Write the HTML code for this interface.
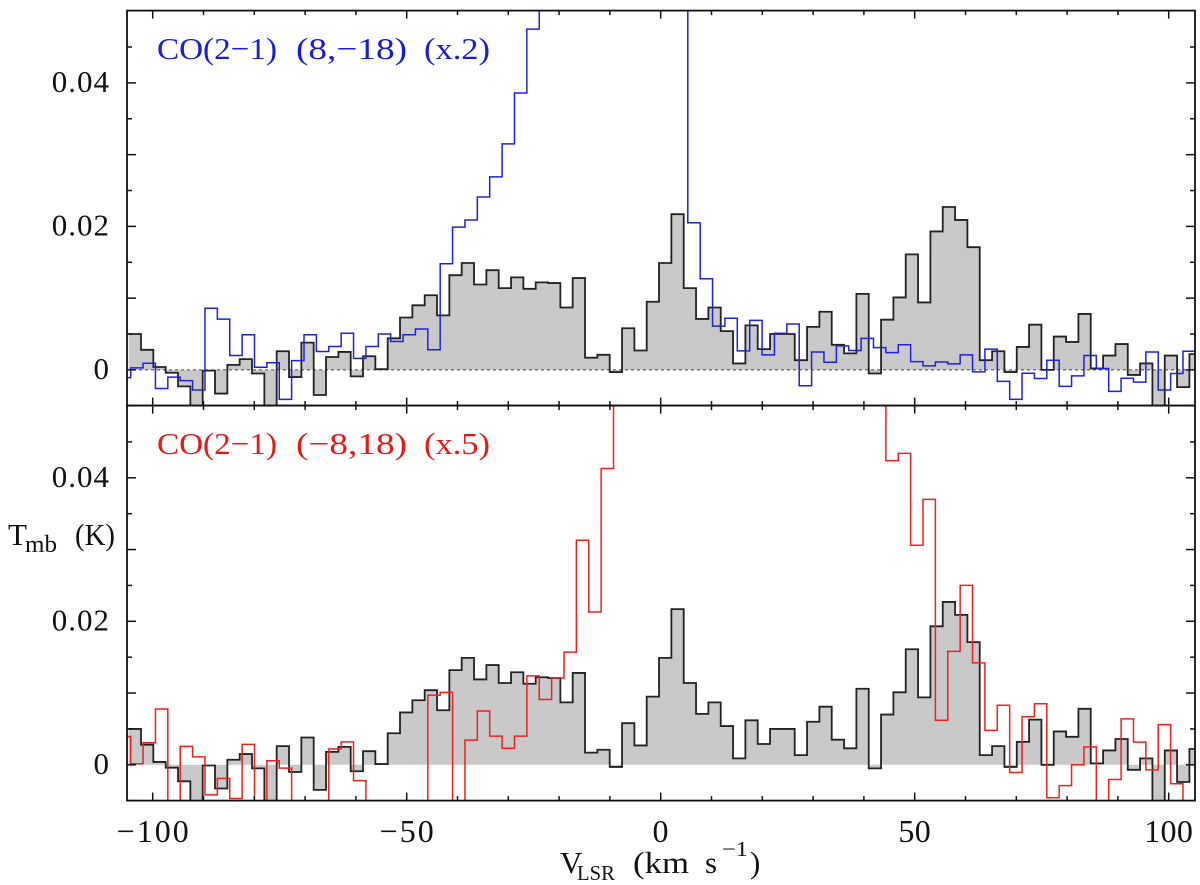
<!DOCTYPE html>
<html lang="en">
<head>
<meta charset="utf-8">
<title>CO(2-1) spectra</title>
<style>
html,body{margin:0;padding:0;background:#fff;}
svg{display:block;}
text{font-family:"Liberation Serif","DejaVu Serif",serif;fill:#111;}
</style>
</head>
<body>
<svg id="chart" xmlns="http://www.w3.org/2000/svg" width="1200" height="885" viewBox="0 0 1200 885">
  <defs>
    <clipPath id="clip-top"><rect x="127" y="10.6" width="1068" height="395"></rect></clipPath>
    <clipPath id="clip-bottom"><rect x="127" y="405.6" width="1068" height="395"></rect></clipPath>
  </defs>
  <g id="fills"></g>
  <line x1="127" x2="1195" y1="369.9" y2="369.9" stroke="#444" stroke-width="1" stroke-dasharray="3 3"></line>
  <g id="series"></g>
  <g id="axes"></g>

  <text x="157" y="59" font-size="31" textLength="120" lengthAdjust="spacingAndGlyphs" style="fill:#1a1ad8">CO(2−1)</text>
  <text x="296" y="59" font-size="31" textLength="111" lengthAdjust="spacingAndGlyphs" style="fill:#1a1ad8">(8,−18)</text>
  <text x="424" y="59" font-size="31" textLength="66" lengthAdjust="spacingAndGlyphs" style="fill:#1a1ad8">(x.2)</text>

  <text x="157" y="454" font-size="31" textLength="120" lengthAdjust="spacingAndGlyphs" style="fill:#e81818">CO(2−1)</text>
  <text x="296" y="454" font-size="31" textLength="111" lengthAdjust="spacingAndGlyphs" style="fill:#e81818">(−8,18)</text>
  <text x="424" y="454" font-size="31" textLength="66" lengthAdjust="spacingAndGlyphs" style="fill:#e81818">(x.5)</text>

  <g>
    <text x="8" y="545" font-size="31">T</text>
    <text x="25" y="552" font-size="24" textLength="32" lengthAdjust="spacingAndGlyphs">mb</text>
    <text x="75" y="545" font-size="31" textLength="40" lengthAdjust="spacingAndGlyphs">(K)</text>
  </g>
  <g>
    <text x="560" y="873" font-size="31">V</text>
    <text x="577" y="880" font-size="21" textLength="38" lengthAdjust="spacingAndGlyphs">LSR</text>
    <text x="633" y="873" font-size="31" textLength="56" lengthAdjust="spacingAndGlyphs">(km</text>
    <text x="705" y="873" font-size="31">s</text>
    <text x="722" y="856" font-size="21" textLength="26" lengthAdjust="spacingAndGlyphs">−1</text>
    <text x="750" y="873" font-size="31">)</text>
  </g>
</svg>
<script>
// Values in mK (1e-3 K). Channels that run off the plot are estimates.
const referenceTmb = [5.0,2.8,0.4,-0.4,-2.3,-5.5,-0.1,-3.3,0.7,1.5,-0.5,-6,2.6,-1.0,3.8,-3.5,1.8,2.5,-0.9,1.9,0.1,4.4,7.3,9.0,10.4,7.6,13.2,14.9,11.9,13.9,11.4,12.9,11.3,12.2,12.1,8.7,12.8,1.7,2.1,-0.3,5.8,2.7,9.5,14.9,21.7,11.4,7.1,8.7,5.4,0.9,6.2,2.9,5.0,5.0,1.35,6.0,8.1,3.5,2.3,10.6,-0.5,7.0,10.1,16.1,9.4,19.3,22.7,20.9,17.1,1.35,2.6,-0.3,3.2,6.3,0,4.65,3.9,7.8,0.2,2.0,3.6,-0.7,0.9,-5.5,2.0,-2.4,2.2];
const blueTmb = [-1.07,0.28,0.93,-2.6,-1.0,-1.5,-2.8,8.6,7.07,2.0,4.9,0.37,1.0,-4.1,1.3,4.9,2.56,3.26,5.1,1.6,3.26,5.0,3.95,4.9,5.7,2.8,14.8,19.9,20.9,24.1,26.9,31.5,38.6,47.5,55,62,70,80,90,100,105,100,90,80,70,60,20.5,12.7,6.1,7.2,2.65,6.9,2.1,5.1,6.4,-2.2,2.5,1.07,3.35,2.7,4.4,3.1,2.4,3.5,1.16,0.56,1.1,0.84,2.1,-0.28,2.9,-1.6,-4.1,-0.47,-1.2,1.35,-2.3,-0.84,2.0,0.2,-3.0,-1.16,-1.7,2.5,-2.8,-0.5,2.6];
const redTmb = [3.95,0.14,3.07,7.77,-7,2.56,1.1,-4.2,-1.9,-4.7,2.84,-7,0.56,-0.47,-7,-7,-7,2.2,3.2,-2.2,-7,-7,-7,-7,-7,9.7,10.1,-7,3.44,7.5,4.0,2.3,4.0,12.4,9.1,12.1,15.7,31.3,21.3,41.3,60,70,80,90,100,110,120,130,135,140,145,140,135,130,120,110,100,90,80,70,60,55,42.4,43.4,30.6,37,6.2,15.8,25,14.2,4.8,8.3,-1.07,6.7,8.5,-4.6,-2.9,0,2.5,-7,-2.05,6.4,3.16,-0.7,5.6,-2.65,-7];

const referenceStartVelocity = -104.73;
const referenceChannelWidth = 2.428;
const offsetStartVelocity = -106.77;
const offsetChannelWidth = 2.437;

const xTickValues = [-100,-90,-80,-70,-60,-50,-40,-30,-20,-10,0,10,20,30,40,50,60,70,80,90,100];
const xMajorValues = [-100,-50,0,50,100];
const xLabelValues = ["−100","−50","0","50","100"];
const yTickValues = [-5,0,5,10,15,20,25,30,35,40,45];
const yMajorValues = [0,10,20,30,40];
const yLabelValues = ["0","0.02","0.04"];

const SVGNS = "http://www.w3.org/2000/svg";
const plotLeft = 127, plotRight = 1195;
const pxPerKms = 5.08, xZero = 660.7, pxPerMilliK = 7.175;
const panels = {
  top: {zero: 369.9, yTop: 10.6, yBottom: 405.6, clip: "clip-top"},
  bottom: {zero: 764.8, yTop: 405.6, yBottom: 800.6, clip: "clip-bottom"}
};

function xScale(v){ return xZero + v * pxPerKms; }
function yScale(panel, t){ return panel.zero - t * pxPerMilliK; }

function stepPoints(values, start, width, panel){
  const pts = [];
  values.forEach(function(val, i){
    const y = yScale(panel, val);
    pts.push(xScale(start + i * width).toFixed(2) + "," + y.toFixed(2));
    pts.push(xScale(start + (i + 1) * width).toFixed(2) + "," + y.toFixed(2));
  });
  return pts;
}

const fills = document.getElementById("fills");
const series = document.getElementById("series");
const axes = document.getElementById("axes");

function drawFill(panel, name){
  const pts = stepPoints(referenceTmb, referenceStartVelocity, referenceChannelWidth, panel);
  const x0 = xScale(referenceStartVelocity).toFixed(2);
  const x1 = xScale(referenceStartVelocity + referenceTmb.length * referenceChannelWidth).toFixed(2);
  const el = document.createElementNS(SVGNS, "polygon");
  el.setAttribute("points", x0 + "," + panel.zero + " " + pts.join(" ") + " " + x1 + "," + panel.zero);
  el.setAttribute("fill", "#c9c9c9");
  el.setAttribute("clip-path", "url(#" + panel.clip + ")");
  
  
  fills.appendChild(el);
}

function drawLine(values, start, width, panel, color, strokeWidth, name){
  const el = document.createElementNS(SVGNS, "polyline");
  el.setAttribute("points", stepPoints(values, start, width, panel).join(" "));
  el.setAttribute("fill", "none");
  el.setAttribute("stroke", color);
  el.setAttribute("stroke-width", strokeWidth);
  el.setAttribute("stroke-linejoin", "miter");
  el.setAttribute("clip-path", "url(#" + panel.clip + ")");
  
  
  series.appendChild(el);
}

drawFill(panels.top, "reference-fill-top");
drawFill(panels.bottom, "reference-fill-bottom");
drawLine(referenceTmb, referenceStartVelocity, referenceChannelWidth, panels.top, "#222", 1.8, "reference-spectrum-top");
drawLine(blueTmb, offsetStartVelocity, offsetChannelWidth, panels.top, "#2020e0", 1.5, "co-8-minus18-spectrum");
drawLine(referenceTmb, referenceStartVelocity, referenceChannelWidth, panels.bottom, "#222", 1.8, "reference-spectrum-bottom");
drawLine(redTmb, offsetStartVelocity, offsetChannelWidth, panels.bottom, "#ee2020", 1.5, "co-minus8-18-spectrum");

function tick(x1, y1, x2, y2, name){
  const el = document.createElementNS(SVGNS, "line");
  el.setAttribute("x1", x1);
  el.setAttribute("y1", y1);
  el.setAttribute("x2", x2);
  el.setAttribute("y2", y2);
  el.setAttribute("stroke", "#111");
  el.setAttribute("stroke-width", "1.5");
  
  
  axes.appendChild(el);
}

[panels.top, panels.bottom].forEach(function(panel){
  xTickValues.forEach(function(v){
    const len = xMajorValues.indexOf(v) >= 0 ? 8 : 4.5;
    tick(xScale(v), panel.yTop, xScale(v), panel.yTop + len, "x-tick");
    tick(xScale(v), panel.yBottom, xScale(v), panel.yBottom - len, "x-tick");
  });
  yTickValues.forEach(function(t){
    const len = yMajorValues.indexOf(t) >= 0 ? 9 : 5;
    tick(plotLeft, yScale(panel, t), plotLeft + len, yScale(panel, t), "y-tick");
    tick(plotRight, yScale(panel, t), plotRight - len, yScale(panel, t), "y-tick");
  });
  const frame = document.createElementNS(SVGNS, "rect");
  frame.setAttribute("x", plotLeft);
  frame.setAttribute("y", panel.yTop);
  frame.setAttribute("width", plotRight - plotLeft);
  frame.setAttribute("height", panel.yBottom - panel.yTop);
  frame.setAttribute("fill", "none");
  frame.setAttribute("stroke", "#111");
  frame.setAttribute("stroke-width", "1.8");
  
  
  axes.appendChild(frame);

  yLabelValues.forEach(function(label, i){
    const el = document.createElementNS(SVGNS, "text");
    el.setAttribute("x", "110");
    el.setAttribute("y", yScale(panel, i * 20) + 9);
    el.setAttribute("font-size", "31");
    el.setAttribute("text-anchor", "end");
    el.setAttribute("letter-spacing", "1");
    el.textContent = label;
    
    
    axes.appendChild(el);
  });
});

xLabelValues.forEach(function(label, i){
  const el = document.createElementNS(SVGNS, "text");
  const hasMinus = label.charAt(0) === "−";
  el.setAttribute("x", xScale(xMajorValues[i]) + (hasMinus ? 1 : 0));
  el.setAttribute("y", "842");
  el.setAttribute("font-size", "32");
  el.setAttribute("text-anchor", "middle");
  el.setAttribute("letter-spacing", hasMinus ? "2" : "0.3");
  el.textContent = label;
  
  
  axes.appendChild(el);
});
</script>
</body>
</html>
